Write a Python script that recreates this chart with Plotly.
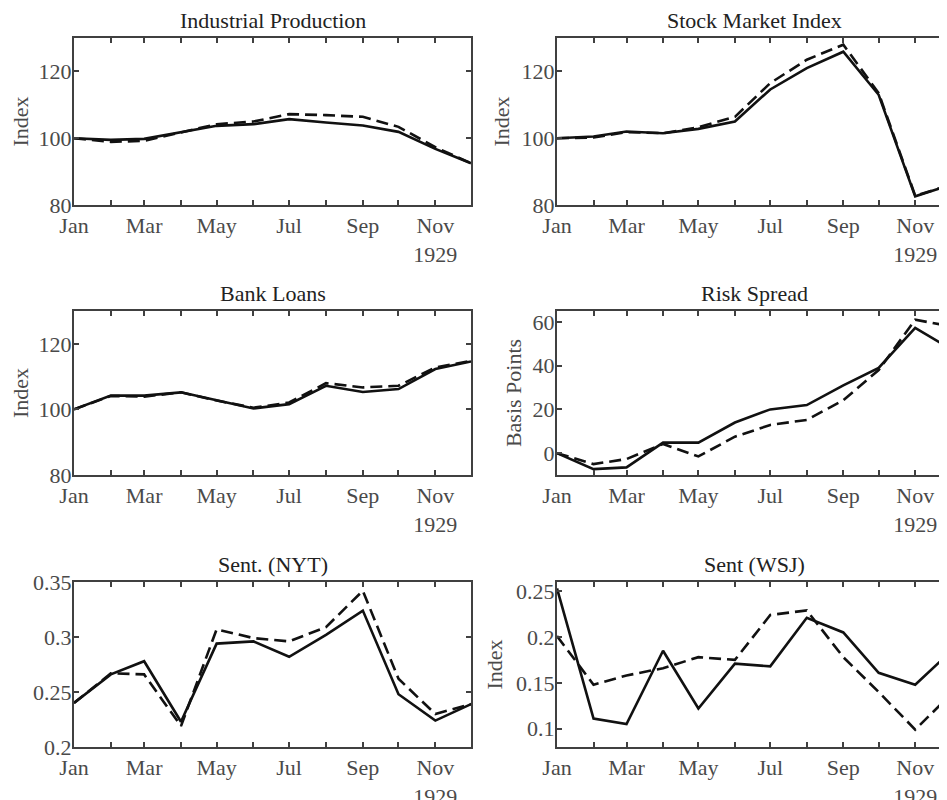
import plotly.graph_objects as go

# ---------------- data ----------------
months = ['1929-01-01', '1929-02-01', '1929-03-01', '1929-04-01', '1929-05-01', '1929-06-01',
          '1929-07-01', '1929-08-01', '1929-09-01', '1929-10-01', '1929-11-01', '1929-12-01']

tick_months = ['1929-01-01', '1929-03-01', '1929-05-01', '1929-07-01', '1929-09-01', '1929-11-01']
tick_labels = ['Jan', 'Mar', 'May', 'Jul', 'Sep', 'Nov<br>1929']

panel_titles = ['Industrial Production', 'Stock Market Index', 'Bank Loans',
                'Risk Spread', 'Sent. (NYT)', 'Sent (WSJ)']
y_titles = ['Index', 'Index', 'Index', 'Basis Points', '', 'Index']

ip_solid = [100, 99.5, 99.8, 101.8, 103.7, 104.2, 105.7, 104.7, 103.8, 101.9, 96.8, 92.5]
ip_dash = [100, 98.9, 99.2, 101.7, 104.2, 105.0, 107.2, 106.9, 106.4, 103.4, 97.3, 92.5]

stock_solid = [100, 100.5, 102.0, 101.5, 102.8, 105.0, 114.6, 121.0, 125.9, 113.0, 82.6, 86.0]
stock_dash = [100, 100.2, 101.8, 101.5, 103.3, 106.4, 116.5, 123.5, 128.0, 113.5, 82.8, 86.0]

loans_solid = [100, 104.2, 104.2, 105.2, 102.8, 100.3, 101.6, 107.2, 105.3, 106.2, 112.3, 114.6]
loans_dash = [100, 104.1, 103.9, 105.2, 102.7, 100.5, 102.1, 108.0, 106.7, 107.2, 112.8, 114.8]

risk_solid = [0, -7.3, -6.5, 4.8, 4.8, 14.0, 20.0, 22.0, 31.0, 39.0, 57.3, 47.7]
risk_dash = [0, -5.0, -2.7, 4.2, -1.5, 7.5, 12.9, 15.2, 24.2, 38.0, 61.0, 58.0]

nyt_solid = [0.240, 0.266, 0.278, 0.223, 0.294, 0.296, 0.282, 0.302, 0.324, 0.248, 0.224, 0.239]
nyt_dash = [0.240, 0.267, 0.266, 0.219, 0.307, 0.299, 0.296, 0.309, 0.342, 0.262, 0.230, 0.239]

wsj_solid = [0.253, 0.111, 0.105, 0.185, 0.122, 0.171, 0.168, 0.221, 0.205, 0.161, 0.148, 0.184]
wsj_dash = [0.201, 0.148, 0.158, 0.166, 0.178, 0.175, 0.224, 0.229, 0.178, 0.140, 0.099, 0.137]

y_ranges = [[80, 130], [80, 130], [80, 130], [-10, 65], [0.2, 0.35], [0.08, 0.26]]
y_tickvals = [[80, 100, 120], [80, 100, 120], [80, 100, 120], [0, 20, 40, 60],
              [0.2, 0.25, 0.3, 0.35], [0.1, 0.15, 0.2, 0.25]]
y_ticktext = [['80', '100', '120'], ['80', '100', '120'], ['80', '100', '120'],
              ['0', '20', '40', '60'], ['0.2', '0.25', '0.3', '0.35'], ['0.1', '0.15', '0.2', '0.25']]

solids = [ip_solid, stock_solid, loans_solid, risk_solid, nyt_solid, wsj_solid]
dashes = [ip_dash, stock_dash, loans_dash, risk_dash, nyt_dash, wsj_dash]

# ---------------- layout ----------------
OFF = 8                      # page body margin of the html output
W, H = 947 - OFF, 800 - OFF
FONT = "Liberation Serif, Times New Roman, serif"
AX = "#404040"
LBL = "#4a4a4a"
TTL = "#222222"
LINE = "#111111"

col_px = [(74, 471), (557, 947)]
row_px = [(38, 205), (311, 475), (582, 747)]
x_end = ['1929-12-01', '1929-11-28']
standoffs = [7, 6, 5, 5, 0, 7]

fig = go.Figure()
layout = dict(
    width=W, height=H, autosize=False,
    margin=dict(l=0, r=0, t=0, b=0),
    paper_bgcolor='white', plot_bgcolor='white',
    showlegend=False,
    font=dict(family=FONT, size=22, color=LBL),
    annotations=[],
)

for i in range(6):
    r, c = divmod(i, 2)
    n = i + 1
    xs = '' if n == 1 else str(n)
    x0, x1 = col_px[c][0] - OFF, col_px[c][1] - OFF
    ytop, ybot = row_px[r][0] - OFF, row_px[r][1] - OFF
    xdom = [x0 / W, min(x1 / W, 1.0)]
    ydom = [1 - ybot / H, 1 - ytop / H]

    fig.add_trace(go.Scatter(x=months, y=solids[i], mode='lines',
                             line=dict(color=LINE, width=2.6),
                             xaxis='x' + xs, yaxis='y' + xs, hoverinfo='skip'))
    fig.add_trace(go.Scatter(x=months, y=dashes[i], mode='lines',
                             line=dict(color=LINE, width=2.6, dash='12px,6px'),
                             xaxis='x' + xs, yaxis='y' + xs, hoverinfo='skip'))

    common = dict(showline=True, linecolor=AX, linewidth=2, mirror='ticks',
                  ticks='inside', ticklen=5, tickwidth=2, tickcolor=AX,
                  showgrid=False, zeroline=False, automargin=False,
                  tickfont=dict(family=FONT, size=22, color=LBL))
    layout['xaxis' + xs] = dict(
        domain=xdom, anchor='y' + xs, type='date',
        range=['1929-01-01', x_end[c]],
        tickmode='array', tickvals=tick_months, ticktext=tick_labels, tickangle=0,
        minor=dict(dtick='M1', tick0='1929-01-01', ticks='inside', ticklen=5,
                   tickwidth=2, tickcolor=AX, showgrid=False),
        **common)
    layout['yaxis' + xs] = dict(
        domain=ydom, anchor='x' + xs, range=y_ranges[i],
        tickmode='array', tickvals=y_tickvals[i], ticktext=y_ticktext[i],
        ticklabelstandoff=-4,
        title=dict(text=y_titles[i], font=dict(family=FONT, size=22, color=LBL),
                   standoff=standoffs[i]),
        **common)

    right = (952 - OFF) if c == 1 else x1
    cx = (x0 + right) / 2 / W
    layout['annotations'].append(dict(
        text=panel_titles[i], xref='paper', yref='paper',
        x=cx, y=ydom[1], xanchor='center', yanchor='bottom', yshift=3,
        showarrow=False, font=dict(family=FONT, size=22, color=TTL)))

fig.update_layout(**layout)
fig.write_html("out.html")
